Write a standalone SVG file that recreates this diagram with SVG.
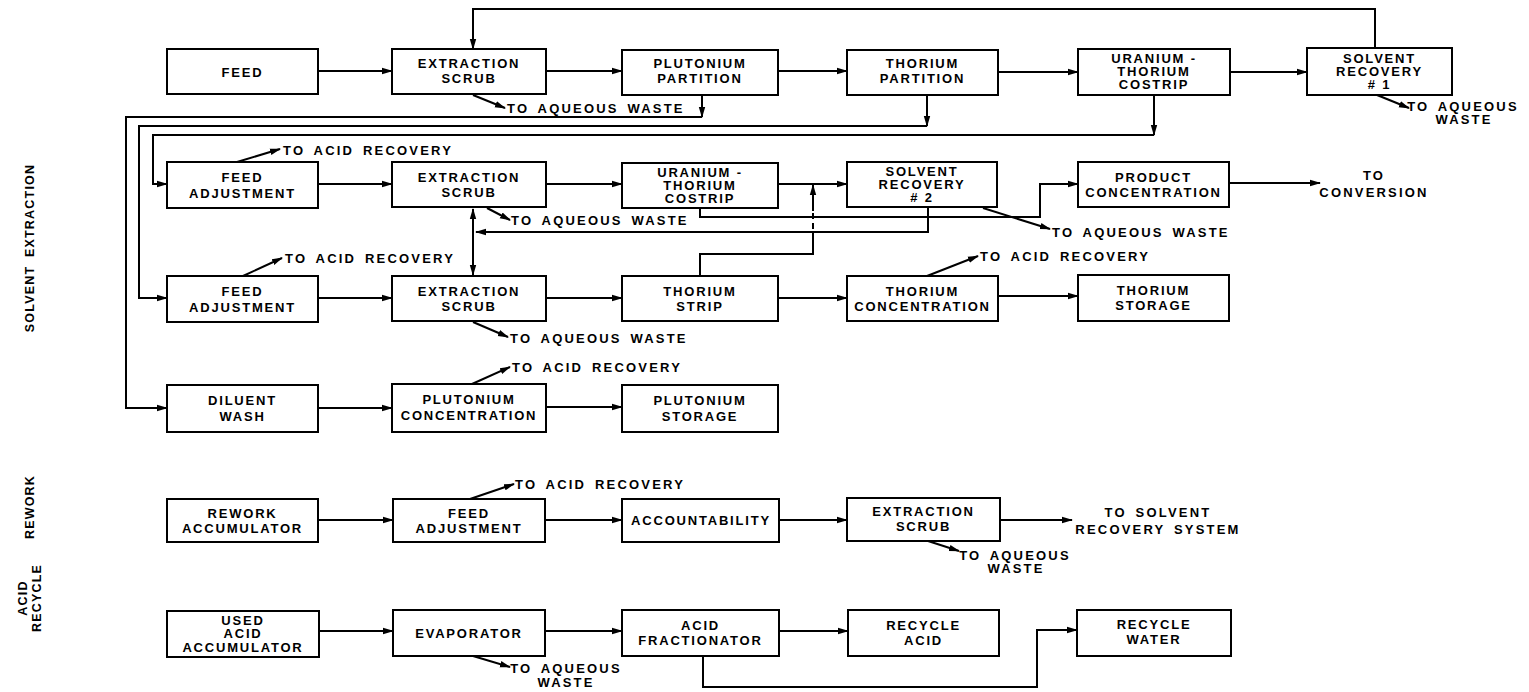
<svg xmlns="http://www.w3.org/2000/svg" width="1529" height="692" viewBox="0 0 1529 692">
<defs>
<marker id="a" markerWidth="11" markerHeight="8" refX="10" refY="4" orient="auto" markerUnits="userSpaceOnUse"><path d="M0,0.8 L11,4 L0,7.2 z" fill="#000"/></marker>
<marker id="as" markerWidth="11" markerHeight="8" refX="1" refY="4" orient="auto" markerUnits="userSpaceOnUse"><path d="M11,0.8 L0,4 L11,7.2 z" fill="#000"/></marker>
</defs>
<style>
rect{fill:#fff;stroke:#000;stroke-width:2}
text{font-family:"Liberation Sans",Arial,sans-serif;font-weight:bold;font-size:13px;fill:#000;letter-spacing:1.8px}
.n text{text-anchor:middle}
.l{letter-spacing:2.2px;word-spacing:3px}
.c{text-anchor:middle}
#edges path{fill:none;stroke:#000;stroke-width:2}
.e{marker-end:url(#a)}
.side{font-size:12.5px;letter-spacing:1.2px;word-spacing:4px;text-anchor:middle}
</style>
<rect x="0" y="0" width="1529" height="692" style="fill:#fff;stroke:none"/>

<g id="labels-side">
<text class="side" transform="translate(34,248) rotate(-90)">SOLVENT EXTRACTION</text>
<text class="side" transform="translate(34,507) rotate(-90)">REWORK</text>
<text class="side" transform="translate(27,598) rotate(-90)">ACID</text>
<text class="side" transform="translate(41,598) rotate(-90)">RECYCLE</text>
</g>

<g class="n">
<g id="feed"><rect x="167" y="49" width="151" height="45"/><text x="242.5" y="77">FEED</text></g>
<g id="ex1"><rect x="392" y="49" width="154" height="45"/><text x="469" y="68">EXTRACTION</text><text x="469" y="83">SCRUB</text></g>
<g id="pup"><rect x="622" y="50" width="156" height="45"/><text x="700" y="68">PLUTONIUM</text><text x="700" y="83">PARTITION</text></g>
<g id="thp"><rect x="847" y="50" width="151" height="45"/><text x="922.5" y="68">THORIUM</text><text x="922.5" y="83">PARTITION</text></g>
<g id="uth1"><rect x="1078" y="49" width="152" height="46"/><text x="1154" y="63">URANIUM -</text><text x="1154" y="76">THORIUM</text><text x="1154" y="89">COSTRIP</text></g>
<g id="sr1"><rect x="1307" y="48" width="145" height="47"/><text x="1379.5" y="63">SOLVENT</text><text x="1379.5" y="76">RECOVERY</text><text x="1379.5" y="89"># 1</text></g>

<g id="fa2"><rect x="167" y="162" width="151" height="46"/><text x="242.5" y="182">FEED</text><text x="242.5" y="198">ADJUSTMENT</text></g>
<g id="ex2"><rect x="392" y="162" width="154" height="45"/><text x="469" y="182">EXTRACTION</text><text x="469" y="197">SCRUB</text></g>
<g id="uth2"><rect x="622" y="163" width="156" height="45"/><text x="700" y="177">URANIUM -</text><text x="700" y="190">THORIUM</text><text x="700" y="203">COSTRIP</text></g>
<g id="sr2"><rect x="847" y="162" width="150" height="45"/><text x="922" y="176">SOLVENT</text><text x="922" y="189">RECOVERY</text><text x="922" y="202"># 2</text></g>
<g id="pc"><rect x="1078" y="162" width="151" height="45"/><text x="1153.5" y="182">PRODUCT</text><text x="1153.5" y="197">CONCENTRATION</text></g>

<g id="fa3"><rect x="167" y="276" width="151" height="46"/><text x="242.5" y="296">FEED</text><text x="242.5" y="312">ADJUSTMENT</text></g>
<g id="ex3"><rect x="392" y="276" width="154" height="45"/><text x="469" y="296">EXTRACTION</text><text x="469" y="311">SCRUB</text></g>
<g id="ths"><rect x="622" y="276" width="156" height="45"/><text x="700" y="296">THORIUM</text><text x="700" y="311">STRIP</text></g>
<g id="thc"><rect x="847" y="276" width="151" height="45"/><text x="922.5" y="296">THORIUM</text><text x="922.5" y="311">CONCENTRATION</text></g>
<g id="thst"><rect x="1078" y="275" width="151" height="46"/><text x="1153.5" y="295">THORIUM</text><text x="1153.5" y="310">STORAGE</text></g>

<g id="dw"><rect x="167" y="385" width="151" height="47"/><text x="242.5" y="405">DILUENT</text><text x="242.5" y="421">WASH</text></g>
<g id="puc"><rect x="392" y="384" width="154" height="48"/><text x="469" y="404">PLUTONIUM</text><text x="469" y="420">CONCENTRATION</text></g>
<g id="pus"><rect x="622" y="385" width="156" height="47"/><text x="700" y="405">PLUTONIUM</text><text x="700" y="421">STORAGE</text></g>

<g id="ra"><rect x="167" y="499" width="151" height="43"/><text x="242.5" y="518">REWORK</text><text x="242.5" y="533">ACCUMULATOR</text></g>
<g id="rfa"><rect x="393" y="499" width="152" height="43"/><text x="469" y="518">FEED</text><text x="469" y="533">ADJUSTMENT</text></g>
<g id="acc"><rect x="622" y="499" width="157" height="43"/><text x="701" y="525">ACCOUNTABILITY</text></g>
<g id="rex"><rect x="847" y="498" width="153" height="43"/><text x="923.5" y="516">EXTRACTION</text><text x="923.5" y="531">SCRUB</text></g>

<g id="uaa"><rect x="167" y="611" width="152" height="46"/><text x="243" y="625">USED</text><text x="243" y="638">ACID</text><text x="243" y="652">ACCUMULATOR</text></g>
<g id="evap"><rect x="393" y="610" width="152" height="46"/><text x="469" y="638">EVAPORATOR</text></g>
<g id="af"><rect x="622" y="610" width="157" height="46"/><text x="700.5" y="630">ACID</text><text x="700.5" y="645">FRACTIONATOR</text></g>
<g id="rac"><rect x="848" y="610" width="151" height="46"/><text x="923.5" y="630">RECYCLE</text><text x="923.5" y="645">ACID</text></g>
<g id="rwt"><rect x="1077" y="610" width="154" height="46"/><text x="1154" y="629">RECYCLE</text><text x="1154" y="644">WATER</text></g>
</g>

<g id="edges">
<path class="e" d="M318,71 H392"/>
<path class="e" d="M546,71 H622"/>
<path class="e" d="M778,71 H847"/>
<path class="e" d="M998,72 H1078"/>
<path class="e" d="M1230,72 H1307"/>
<path class="e" d="M1375,48 V9 H473 V49"/>
<path class="e" d="M473,95 L505,108"/>
<path class="e" d="M1377,95 L1409,108"/>
<path class="e" d="M702,95 V117"/>
<path class="e" d="M702,117 H126 V408 H167"/>
<path class="e" d="M927,95 V126"/>
<path class="e" d="M927,126 H139 V298 H167"/>
<path class="e" d="M1154,95 V135"/>
<path class="e" d="M1154,135 H153 V184 H167"/>

<path class="e" d="M318,184 H392"/>
<path class="e" d="M546,184 H622"/>
<path class="e" d="M778,184 H847"/>
<path class="e" d="M700,208 V217 H1040 V184 H1078"/>
<path class="e" d="M928,207 V232 H476"/>
<path d="M473,209 V275" style="marker-start:url(#as);marker-end:url(#a)"/>
<path class="e" d="M487,208 L510,220"/>
<path class="e" d="M983,208 L1050,229"/>
<path d="M700,276 V254 H813 V239"/>
<path d="M813,239 V211" style="stroke-dasharray:6,4"/>
<path class="e" d="M813,211 V185"/>
<path class="e" d="M237,162 L280,149"/>
<path class="e" d="M1229,183 H1320"/>

<path class="e" d="M318,298 H392"/>
<path class="e" d="M546,298 H622"/>
<path class="e" d="M778,298 H847"/>
<path class="e" d="M998,296 H1078"/>
<path class="e" d="M243,276 L282,258"/>
<path class="e" d="M473,322 L508,337"/>
<path class="e" d="M927,276 L978,256"/>

<path class="e" d="M318,408 H392"/>
<path class="e" d="M546,407 H622"/>
<path class="e" d="M472,384 L510,367"/>

<path class="e" d="M318,520 H393"/>
<path class="e" d="M545,520 H622"/>
<path class="e" d="M779,520 H847"/>
<path class="e" d="M1000,520 H1072"/>
<path class="e" d="M470,499 L514,484"/>
<path class="e" d="M928,541 L959,551"/>

<path class="e" d="M319,631 H393"/>
<path class="e" d="M545,631 H622"/>
<path class="e" d="M779,631 H848"/>
<path class="e" d="M703,656 V687 H1037 V630 H1077"/>
<path class="e" d="M473,656 L510,667"/>
</g>

<g id="edge-labels">
<text class="l" x="507" y="113">TO AQUEOUS WASTE</text>
<text class="l c" x="1463" y="111">TO AQUEOUS</text>
<text class="l c" x="1464" y="124">WASTE</text>
<text class="l" x="283" y="155">TO ACID RECOVERY</text>
<text class="l" x="511" y="225">TO AQUEOUS WASTE</text>
<text class="l" x="1052" y="237">TO AQUEOUS WASTE</text>
<text class="l c" x="1374" y="180">TO</text>
<text class="l c" x="1374" y="197">CONVERSION</text>
<text class="l" x="285" y="263">TO ACID RECOVERY</text>
<text class="l" x="980" y="261">TO ACID RECOVERY</text>
<text class="l" x="510" y="343">TO AQUEOUS WASTE</text>
<text class="l" x="512" y="372">TO ACID RECOVERY</text>
<text class="l" x="515" y="489">TO ACID RECOVERY</text>
<text class="l c" x="1158" y="517">TO SOLVENT</text>
<text class="l c" x="1158" y="534">RECOVERY SYSTEM</text>
<text class="l c" x="1015" y="560">TO AQUEOUS</text>
<text class="l c" x="1016" y="573">WASTE</text>
<text class="l c" x="566" y="673">TO AQUEOUS</text>
<text class="l c" x="566" y="687">WASTE</text>
</g>
</svg>
